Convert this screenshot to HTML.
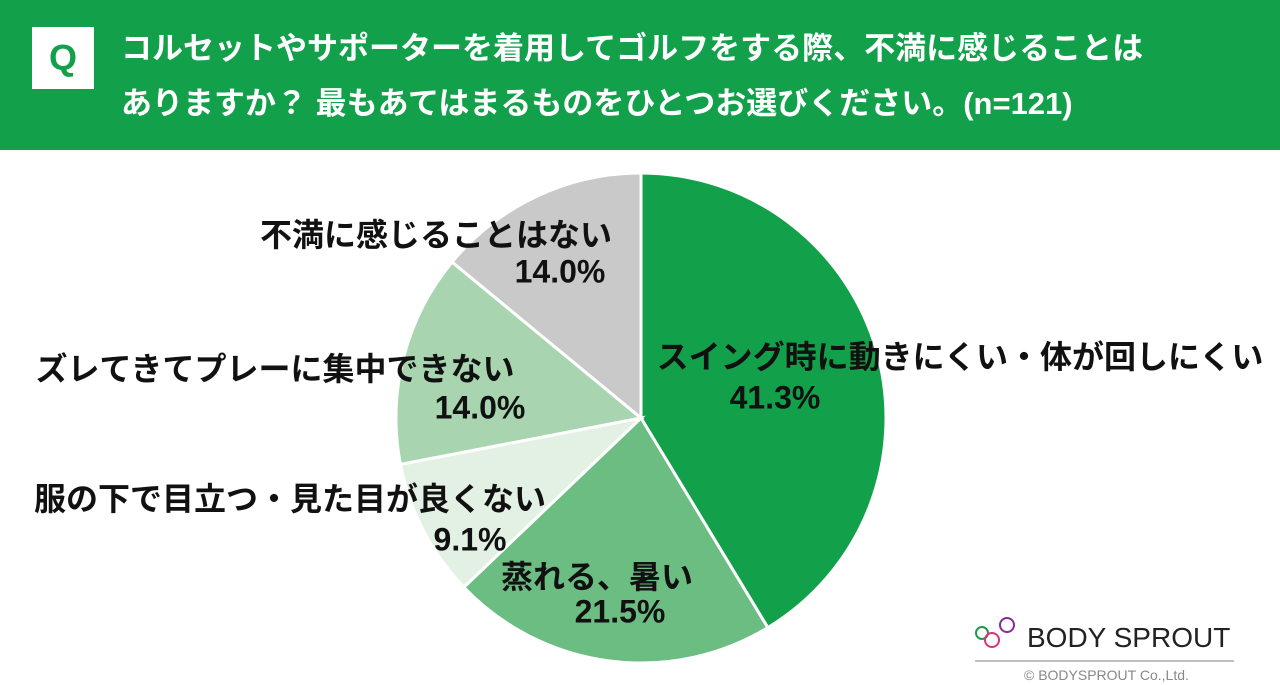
<!DOCTYPE html>
<html><head><meta charset="utf-8"><style>
body{margin:0;width:1280px;height:685px;background:#fff;overflow:hidden;font-family:"Liberation Sans","Noto Sans CJK JP",sans-serif;position:relative}
#hdr{position:absolute;left:0;top:0;width:1280px;height:150px;background:#12a04b}
#q{position:absolute;left:32px;top:27px;width:62px;height:62px;background:#fff;color:#12a04b;font-weight:bold;font-size:36px;text-align:center;line-height:62px}
#title{position:absolute;left:121px;top:21px;color:#fff;font-weight:bold;font-size:31px;line-height:55px;white-space:nowrap}
.lbl{position:absolute;font-weight:bold;font-size:32px;color:#111;white-space:nowrap;transform:translate(-50%,-50%);font-family:"Liberation Sans","Noto Sans CJK JP",sans-serif}
</style></head><body>
<div id="hdr"></div>
<div id="q">Q</div>
<div id="title">コルセットやサポーターを着用してゴルフをする際、不満に感じることは<br>ありますか？ 最もあてはまるものをひとつお選びください。(n=121)</div>
<svg id="pie" width="1280" height="685" style="position:absolute;left:0;top:0"></svg>
<div id="labels"></div>
<svg width="1280" height="685" style="position:absolute;left:0;top:0">
<circle cx="982" cy="633" r="6" fill="none" stroke="#1f9a4a" stroke-width="2"/>
<circle cx="992" cy="640" r="7" fill="none" stroke="#e0307a" stroke-width="2"/>
<circle cx="1007" cy="625" r="7" fill="none" stroke="#8a2a9a" stroke-width="2"/>
<text x="1027" y="647" font-size="28" fill="#222" font-family="Liberation Sans">BODY SPROUT</text>
<line x1="975" y1="661" x2="1234" y2="661" stroke="#aaa" stroke-width="1.5"/>
<text x="1024" y="680" font-size="14" fill="#888" font-family="Liberation Sans">© BODYSPROUT Co.,Ltd.</text>
</svg>
<script>
const categories=["スイング時に動きにくい・体が回しにくい","蒸れる、暑い","服の下で目立つ・見た目が良くない","ズレてきてプレーに集中できない","不満に感じることはない"];
const values=[41.3,21.5,9.1,14.0,14.0];
const colors=["#12a04b","#6cbd82","#e3f1e5","#a8d5b0","#c9c9c9"];
const labelPos=[[960,355,775,398],[597,575,620,612],[290,497,470,540],[275,367,480,408],[436,233,560,272]];
const cx=641,cy=418,r=245;
const svg=document.getElementById('pie');
const total=values.reduce((a,b)=>a+b,0);
let a0=-Math.PI/2;
const NS="http://www.w3.org/2000/svg";
values.forEach((v,i)=>{
 const a1=a0+v/total*2*Math.PI;
 const p=document.createElementNS(NS,'path');
 const x0=cx+r*Math.cos(a0),y0=cy+r*Math.sin(a0),x1=cx+r*Math.cos(a1),y1=cy+r*Math.sin(a1);
 p.setAttribute('d',`M${cx},${cy}L${x0},${y0}A${r},${r} 0 ${a1-a0>Math.PI?1:0} 1 ${x1},${y1}Z`);
 p.setAttribute('fill',colors[i]);p.setAttribute('stroke','#fff');p.setAttribute('stroke-width','3');
 
 
 svg.appendChild(p);
 a0=a1;
 const L=document.getElementById('labels');
 const d1=document.createElement('div');d1.className='lbl';d1.style.left=labelPos[i][0]+'px';d1.style.top=labelPos[i][1]+'px';d1.textContent=categories[i];
 
 
 L.appendChild(d1);
 const d2=document.createElement('div');d2.className='lbl';d2.style.left=labelPos[i][2]+'px';d2.style.top=labelPos[i][3]+'px';d2.textContent=v.toFixed(1)+'%';
 
 
 L.appendChild(d2);
});
</script>
</body></html>
